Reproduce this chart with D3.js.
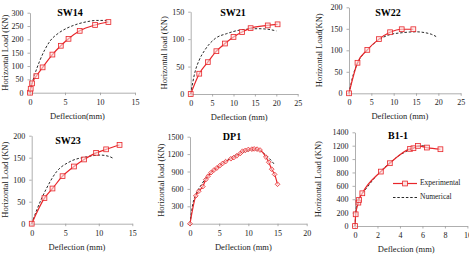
<!DOCTYPE html>
<html>
<head>
<meta charset="utf-8">
<script src="https://cdn.jsdelivr.net/npm/d3@7"></script>
<style>
  body { margin: 0; background: #fff; }
  svg { display: block; }
  text { font-family: "Liberation Serif", "Times New Roman", serif; }
</style>
</head>
<body>
<svg id="chart" width="469" height="254"></svg>
<script>
// experimental (red, markers) and numerical (black dashed) curves, [deflection mm, load KN]
let sw14Exp = [[0,0],[0.1,15],[0.3,35],[0.9,62],[1.8,95],[3.2,143],[4.4,176],[5.5,202],[7.1,232],[9.3,254],[11.2,265]];
let sw14Num = [[0,0],[0.3,35],[0.7,70],[1.4,120],[2.9,195],[4,222],[5.2,241],[6.5,255],[8.1,266],[9.5,271],[10.5,271],[11.2,268]];

let sw21Exp = [[0,0],[2,37],[4,58],[6,78],[8,92],[10,104],[12,113],[14,120],[18,125],[20.3,127]];
let sw21Num = [[0,0],[1,40],[2,62],[3.3,80],[5.7,101],[8.4,110],[11.9,117],[15.8,119],[18,118],[20,115]];

let sw22Exp = [[0,0],[1.9,71],[4.1,101],[6.7,126],[9.2,142],[11.8,149],[14.4,149]];
let sw22Num = [[0,0],[1,45],[2,72],[4,100],[6.5,123],[9,136],[12,141],[15,143],[17,141],[18.5,137],[19.5,132]];

let sw23Exp = [[0,0],[1.9,58],[3.1,80],[4.6,108],[6.3,130],[7.8,146],[9.6,161],[11.1,169],[13.1,179]];
let sw23Num = [[0,0],[0.75,31],[2.2,80],[3.7,118],[5.7,141],[8.2,152],[10.2,156],[11.7,152],[12.2,148]];

let dp1Exp = [[0,0],[1,480],[1.5,560],[2.2,640],[2.7,760],[3.1,820],[3.6,880],[4.1,925],[4.6,960],[5.1,1000],[5.6,1040],[6.1,1070],[7,1120],[7.5,1140],[8,1170],[8.6,1210],[9,1250],[9.5,1265],[10,1280],[10.6,1285],[11,1290],[11.5,1285],[12,1270],[13,1150],[13.5,1060],[14,940],[14.5,850],[15,680]];
let dp1Num = [[0,0],[0.5,350],[1,500],[2,680],[3,820],[4,920],[5,1000],[6,1070],[7,1130],[8,1190],[9,1230],[10,1260],[11,1275],[12,1260],[13,1180],[14,1080],[14.4,1030]];

let b11Exp = [[0,0],[0.06,175],[0.3,349],[0.36,389],[0.65,489],[2.3,813],[3.1,938],[4.9,1152],[5.2,1162],[5.6,1197],[6.4,1172],[7.6,1147]];
let b11Num = [[0,0],[0.1,250],[0.25,380],[0.5,450],[1,560],[2,770],[3,930],[4,1060],[5,1150],[5.6,1190],[6,1200],[6.3,1185]];

let titles = ["SW14", "SW21", "SW22", "SW23", "DP1", "B1-1"];
let yLabels = ["Horizontal Load (KN)", "Horizontal load (KN)", "Horizontal Load(KN)", "Horizontal Load (KN)", "Horizontal load (KN)", "Horizontal Load (KN)"];
let xLabels = ["Deflection(mm)", "Deflection (mm)", "Deflection (mm)", "Deflection (mm)", "Deflection (mm)", "Deflection (mm)"];
let xTicks = [[0,5,10,15], [0,5,10,15,20,25], [0,5,10,15,20,25], [0,5,10,15], [0,5,10,15,20], [0,2,4,6,8,10]];
let yTicks = [[0,50,100,150,200,250,300], [0,50,100,150], [0,50,100,150,200], [0,50,100,150,200], [0,300,600,900,1200,1500], [0,200,400,600,800,1000,1200,1400]];
let legendNames = ["Experimental", "Numerical"];

const red = "#e8262a";
const axisCol = "#9a9a9a";
const svg = d3.select("#chart");

// layout per panel: plot box in px, title pos, y label x
let panels = [
  {exp: sw14Exp, num: sw14Num, xd: [0,15], yd: [0,300], box: [30,135,92.7,12.7], tx: 70, ty: 16, ylx: 6, marker: "square"},
  {exp: sw21Exp, num: sw21Num, xd: [0,25], yd: [0,150], box: [190.7,297.7,94,11.7], tx: 233, ty: 16, ylx: 165, marker: "square"},
  {exp: sw22Exp, num: sw22Num, xd: [0,25], yd: [0,200], box: [349,460.7,93.3,7.3], tx: 388, ty: 16, ylx: 320, marker: "square"},
  {exp: sw23Exp, num: sw23Num, xd: [0,15], yd: [0,200], box: [31.7,132.3,223.7,135.7], tx: 68, ty: 144, ylx: 6, marker: "square"},
  {exp: dp1Exp, num: dp1Num, xd: [0,20], yd: [0,1500], box: [190,306.7,223.7,136.7], tx: 232, ty: 140, ylx: 162, marker: "diamond"},
  {exp: b11Exp, num: b11Num, xd: [0,10], yd: [0,1400], box: [355,467.4,226,132.3], tx: 398, ty: 139, ylx: 319, marker: "square"}
];

panels.forEach((p, i) => {
  let x = d3.scaleLinear().domain(p.xd).range([p.box[0], p.box[1]]);
  let y = d3.scaleLinear().domain(p.yd).range([p.box[2], p.box[3]]);
  let g = svg.append("g");

  let xAxis = g.append("g").attr("transform", `translate(0,${p.box[2]})`)
    .call(d3.axisBottom(x).tickValues(xTicks[i]).tickFormat(d3.format("d")).tickSize(2.5).tickPadding(4).tickSizeOuter(0));
  let yAxis = g.append("g").attr("transform", `translate(${p.box[0]},0)`)
    .call(d3.axisLeft(y).tickValues(yTicks[i]).tickFormat(d3.format("d")).tickSize(2.5).tickPadding(4).tickSizeOuter(0));
  [xAxis, yAxis].forEach(a => {
    a.select(".domain").attr("stroke", axisCol).attr("stroke-width", 0.8);
    a.selectAll(".tick line").attr("stroke", axisCol).attr("stroke-width", 0.8);
    a.selectAll("text").attr("font-family", "Liberation Serif").attr("font-size", 8).attr("fill", "#222");
  });

  let line = d3.line().x(d => x(d[0])).y(d => y(d[1])).curve(d3.curveMonotoneX);
  g.append("path").datum(p.num).attr("d", line)
    .attr("fill", "none").attr("stroke", "#111").attr("stroke-width", 0.9).attr("stroke-dasharray", "2.5,1.8");
  g.append("path").datum(p.exp).attr("d", line)
    .attr("fill", "none").attr("stroke", red).attr("stroke-width", 1.2);

  let s = 4.8;
  if (p.marker == "square") {
    g.selectAll("rect.m").data(p.exp).join("rect").attr("class", "m")
      .attr("x", d => x(d[0]) - s / 2).attr("y", d => y(d[1]) - s / 2)
      .attr("width", s).attr("height", s)
      .attr("fill", "#fbe3e3").attr("fill-opacity", 0.6).attr("stroke", red).attr("stroke-width", 0.8);
  } else {
    g.selectAll("path.m").data(p.exp).join("path").attr("class", "m")
      .attr("d", d3.symbol(d3.symbolDiamond2, 14))
      .attr("transform", d => `translate(${x(d[0])},${y(d[1])})`)
      .attr("fill", "#fbe3e3").attr("fill-opacity", 0.6).attr("stroke", red).attr("stroke-width", 0.8);
  }

  g.append("text").attr("x", p.tx).attr("y", p.ty).attr("text-anchor", "middle")
    .attr("font-weight", "bold").attr("font-size", 10).text(titles[i]);

  g.append("text").attr("x", (p.box[0] + p.box[1]) / 2 - 5).attr("y", p.box[2] + 26)
    .attr("text-anchor", "middle").attr("font-size", 8.5).attr("fill", "#222").text(xLabels[i]);

  let yc = (p.box[2] + p.box[3]) / 2;
  g.append("text").attr("transform", `translate(${p.ylx},${yc}) rotate(-90)`)
    .attr("text-anchor", "middle").attr("dominant-baseline", "middle")
    .attr("font-size", 8.5).attr("fill", "#222").text(yLabels[i]);
});

// legend inside B1-1 panel
let lg = svg.append("g");
lg.append("line").attr("x1", 393).attr("x2", 417).attr("y1", 183.5).attr("y2", 183.5)
  .attr("stroke", red).attr("stroke-width", 1.2);
lg.append("rect").attr("x", 402.6).attr("y", 181.1).attr("width", 4.8).attr("height", 4.8)
  .attr("fill", "#fbe3e3").attr("stroke", red).attr("stroke-width", 0.8);
lg.append("line").attr("x1", 393).attr("x2", 417).attr("y1", 197.5).attr("y2", 197.5)
  .attr("stroke", "#111").attr("stroke-width", 0.9).attr("stroke-dasharray", "2.5,1.8");
lg.selectAll("text").data(legendNames).join("text")
  .attr("x", 420).attr("y", (d, i) => 183.5 + i * 14).attr("dominant-baseline", "middle")
  .attr("font-family", "Liberation Sans, Arial, sans-serif").attr("font-size", 7.5).attr("fill", "#222")
  .text(d => d);
</script>
</body>
</html>
